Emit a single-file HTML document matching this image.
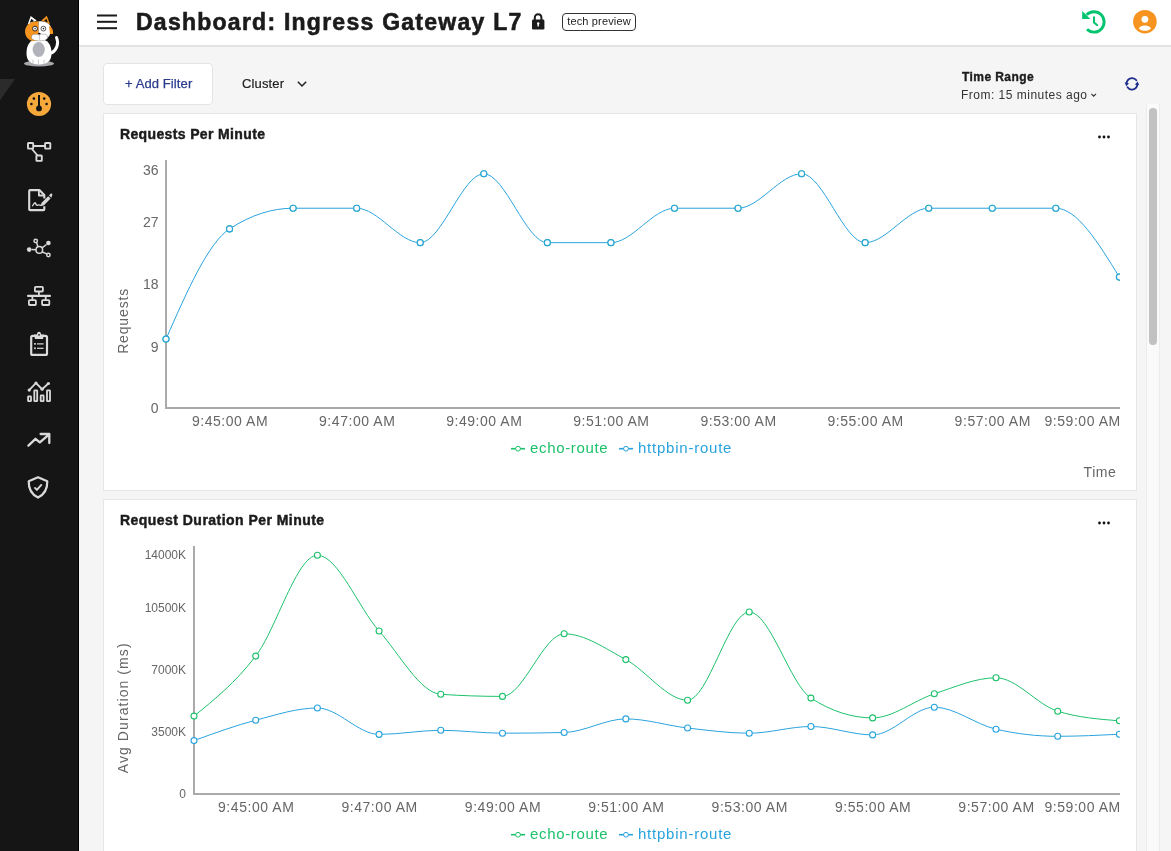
<!DOCTYPE html>
<html><head><meta charset="utf-8"><style>
*{box-sizing:border-box}
html,body{margin:0;padding:0;width:1171px;height:851px;overflow:hidden;background:#f5f5f5;font-family:"Liberation Sans", sans-serif}
.abs{position:absolute}
svg,.abs{will-change:transform}
#side{left:0;top:0;width:79px;height:851px;background:#151515;border-right:1px solid #000}
#hdr{left:79px;top:0;width:1092px;height:47px;background:#fff;border-bottom:2px solid #e3e3e3}
.title{left:136px;top:6.8px;font-size:23px;font-weight:bold;color:#1b1b1b;letter-spacing:1.25px;-webkit-text-stroke:0.6px #1b1b1b;white-space:nowrap;line-height:30px}
.badge{left:562px;top:13px;width:74px;height:18px;border:1px solid #333;border-radius:4px;font-size:11px;color:#222;line-height:15px;text-align:center;letter-spacing:0.15px}
.btn{left:103px;top:63px;width:110px;height:42px;background:#fff;border:1px solid #e4e4e4;border-radius:4px}
.panel{background:#fff;border:1px solid #e6e6e6}
.ptitle{font-size:14px;font-weight:bold;color:#1b1b1b;white-space:nowrap;letter-spacing:0.36px;line-height:16px;-webkit-text-stroke:0.45px #1b1b1b}
text{font-family:"Liberation Sans", sans-serif}
.xl{font-size:14px;fill:#666;letter-spacing:0.55px}
.yl1{font-size:14px;fill:#666}
.yl2{font-size:12px;fill:#666}
.at{font-size:14px;fill:#666}
.lg{font-size:15px}
</style></head><body>
<div id="side" class="abs"></div>
<div id="hdr" class="abs"></div>
<div class="abs title">Dashboard: Ingress Gateway L7</div>
<div class="abs badge">tech preview</div>
<div class="abs btn"></div>
<div class="abs" style="left:125px;top:76px;font-size:13px;color:#2a3a8c;line-height:15px;white-space:nowrap;letter-spacing:0.1px;-webkit-text-stroke:0.25px #2a3a8c">+ Add Filter</div>
<div class="abs" style="left:241.5px;top:76px;font-size:13px;color:#222;line-height:15px;letter-spacing:0.15px;-webkit-text-stroke:0.2px #222">Cluster</div>
<div class="abs" style="left:961.5px;top:70px;font-size:12px;font-weight:bold;color:#1b1b1b;line-height:14px;letter-spacing:0.42px;white-space:nowrap;-webkit-text-stroke:0.35px #1b1b1b">Time Range</div>
<div class="abs" style="left:960.8px;top:88px;font-size:12px;color:#333;line-height:14px;letter-spacing:0.49px;white-space:nowrap">From: 15 minutes ago</div>
<div class="abs panel" style="left:103px;top:113px;width:1034px;height:378px"></div>
<div class="abs panel" style="left:103px;top:499px;width:1034px;height:400px"></div>
<div class="abs ptitle" style="left:119.8px;top:126px">Requests Per Minute</div>
<div class="abs ptitle" style="left:119.8px;top:512px;letter-spacing:0.46px">Request Duration Per Minute</div>
<div class="abs" style="left:1146px;top:104px;width:14px;height:747px;background:#fafafa;border-left:1px solid #ececec;border-right:1px solid #ececec"></div>
<div class="abs" style="left:1149px;top:108px;width:8px;height:237px;background:#c1c1c1;border-radius:4px"></div>
<svg width="1171" height="851" style="position:absolute;left:0;top:0"><defs><clipPath id="c1"><rect x="160" y="100" width="960" height="320"/></clipPath><clipPath id="c2"><rect x="188" y="530" width="932" height="270"/></clipPath></defs><rect x="165" y="160" width="2" height="249" fill="#aaa"/><rect x="165" y="407" width="955" height="2" fill="#aaa"/><g clip-path="url(#c1)"><circle cx="166.00" cy="339.11" r="3.0" fill="#fff" stroke="#1cc16b" stroke-width="1.1"/><circle cx="229.56" cy="228.89" r="3.0" fill="#fff" stroke="#1cc16b" stroke-width="1.1"/><circle cx="293.12" cy="208.22" r="3.0" fill="#fff" stroke="#1cc16b" stroke-width="1.1"/><circle cx="356.68" cy="208.22" r="3.0" fill="#fff" stroke="#1cc16b" stroke-width="1.1"/><circle cx="420.24" cy="242.67" r="3.0" fill="#fff" stroke="#1cc16b" stroke-width="1.1"/><circle cx="483.80" cy="173.78" r="3.0" fill="#fff" stroke="#1cc16b" stroke-width="1.1"/><circle cx="547.36" cy="242.67" r="3.0" fill="#fff" stroke="#1cc16b" stroke-width="1.1"/><circle cx="610.92" cy="242.67" r="3.0" fill="#fff" stroke="#1cc16b" stroke-width="1.1"/><circle cx="674.48" cy="208.22" r="3.0" fill="#fff" stroke="#1cc16b" stroke-width="1.1"/><circle cx="738.04" cy="208.22" r="3.0" fill="#fff" stroke="#1cc16b" stroke-width="1.1"/><circle cx="801.60" cy="173.78" r="3.0" fill="#fff" stroke="#1cc16b" stroke-width="1.1"/><circle cx="865.16" cy="242.67" r="3.0" fill="#fff" stroke="#1cc16b" stroke-width="1.1"/><circle cx="928.72" cy="208.22" r="3.0" fill="#fff" stroke="#1cc16b" stroke-width="1.1"/><circle cx="992.28" cy="208.22" r="3.0" fill="#fff" stroke="#1cc16b" stroke-width="1.1"/><circle cx="1055.84" cy="208.22" r="3.0" fill="#fff" stroke="#1cc16b" stroke-width="1.1"/><circle cx="1119.40" cy="277.11" r="3.0" fill="#fff" stroke="#1cc16b" stroke-width="1.1"/><path d="M166.00,339.11C187.19,290.89 208.37,242.67 229.56,228.89C250.75,215.11 271.93,208.22 293.12,208.22C314.31,208.22 335.49,208.22 356.68,208.22C377.87,208.22 399.05,242.67 420.24,242.67C441.43,242.67 462.61,173.78 483.80,173.78C504.99,173.78 526.17,242.67 547.36,242.67C568.55,242.67 589.73,242.67 610.92,242.67C632.11,242.67 653.29,208.22 674.48,208.22C695.67,208.22 716.85,208.22 738.04,208.22C759.23,208.22 780.41,173.78 801.60,173.78C822.79,173.78 843.97,242.67 865.16,242.67C886.35,242.67 907.53,208.22 928.72,208.22C949.91,208.22 971.09,208.22 992.28,208.22C1013.47,208.22 1034.65,208.22 1055.84,208.22C1077.03,208.22 1098.21,242.67 1119.40,277.11" fill="none" stroke="#29a3dd" stroke-width="1"/><circle cx="166.00" cy="339.11" r="3.0" fill="#fff" stroke="#29a3dd" stroke-width="1.1"/><circle cx="229.56" cy="228.89" r="3.0" fill="#fff" stroke="#29a3dd" stroke-width="1.1"/><circle cx="293.12" cy="208.22" r="3.0" fill="#fff" stroke="#29a3dd" stroke-width="1.1"/><circle cx="356.68" cy="208.22" r="3.0" fill="#fff" stroke="#29a3dd" stroke-width="1.1"/><circle cx="420.24" cy="242.67" r="3.0" fill="#fff" stroke="#29a3dd" stroke-width="1.1"/><circle cx="483.80" cy="173.78" r="3.0" fill="#fff" stroke="#29a3dd" stroke-width="1.1"/><circle cx="547.36" cy="242.67" r="3.0" fill="#fff" stroke="#29a3dd" stroke-width="1.1"/><circle cx="610.92" cy="242.67" r="3.0" fill="#fff" stroke="#29a3dd" stroke-width="1.1"/><circle cx="674.48" cy="208.22" r="3.0" fill="#fff" stroke="#29a3dd" stroke-width="1.1"/><circle cx="738.04" cy="208.22" r="3.0" fill="#fff" stroke="#29a3dd" stroke-width="1.1"/><circle cx="801.60" cy="173.78" r="3.0" fill="#fff" stroke="#29a3dd" stroke-width="1.1"/><circle cx="865.16" cy="242.67" r="3.0" fill="#fff" stroke="#29a3dd" stroke-width="1.1"/><circle cx="928.72" cy="208.22" r="3.0" fill="#fff" stroke="#29a3dd" stroke-width="1.1"/><circle cx="992.28" cy="208.22" r="3.0" fill="#fff" stroke="#29a3dd" stroke-width="1.1"/><circle cx="1055.84" cy="208.22" r="3.0" fill="#fff" stroke="#29a3dd" stroke-width="1.1"/><circle cx="1119.40" cy="277.11" r="3.0" fill="#fff" stroke="#29a3dd" stroke-width="1.1"/></g><text x="158.5" y="175.0" text-anchor="end" class="yl1">36</text><text x="158.5" y="227.0" text-anchor="end" class="yl1">27</text><text x="158.5" y="289.0" text-anchor="end" class="yl1">18</text><text x="158.5" y="351.6" text-anchor="end" class="yl1">9</text><text x="158.5" y="412.6" text-anchor="end" class="yl1">0</text><text x="230.06" y="426" text-anchor="middle" class="xl">9:45:00 AM</text><text x="357.18" y="426" text-anchor="middle" class="xl">9:47:00 AM</text><text x="484.30" y="426" text-anchor="middle" class="xl">9:49:00 AM</text><text x="611.42" y="426" text-anchor="middle" class="xl">9:51:00 AM</text><text x="738.54" y="426" text-anchor="middle" class="xl">9:53:00 AM</text><text x="865.66" y="426" text-anchor="middle" class="xl">9:55:00 AM</text><text x="992.78" y="426" text-anchor="middle" class="xl">9:57:00 AM</text><text x="1120.8" y="426" text-anchor="end" class="xl">9:59:00 AM</text><text transform="translate(128,320.9) rotate(-90)" text-anchor="middle" class="at" style="letter-spacing:0.85px">Requests</text><text x="1116.5" y="477" text-anchor="end" class="at" style="letter-spacing:0.6px">Time</text><rect x="511" y="447.90" width="14" height="1.6" fill="#1cc16b"/><circle cx="518.0" cy="448.70" r="2.4" fill="#fff" stroke="#1cc16b" stroke-width="1"/><text x="530" y="452.8" class="lg" fill="#1cc16b" style="letter-spacing:0.66px">echo-route</text><rect x="619" y="447.90" width="14" height="1.6" fill="#29a3dd"/><circle cx="626.0" cy="448.70" r="2.4" fill="#fff" stroke="#29a3dd" stroke-width="1"/><text x="638" y="452.8" class="lg" fill="#29a3dd" style="letter-spacing:0.77px">httpbin-route</text><rect x="193" y="546" width="2" height="249" fill="#aaa"/><rect x="193" y="793" width="927" height="2" fill="#aaa"/><g clip-path="url(#c2)"><path d="M194.00,716.10C214.56,699.50 235.13,682.90 255.69,656.10C276.26,629.30 296.82,555.30 317.39,555.30C337.95,555.30 358.52,607.83 379.08,631.00C399.64,654.17 420.21,692.90 440.77,694.30C461.34,695.70 481.90,696.40 502.47,696.40C523.03,696.40 543.60,633.80 564.16,633.80C584.72,633.80 605.29,648.53 625.85,659.60C646.42,670.67 666.98,700.20 687.55,700.20C708.11,700.20 728.68,612.00 749.24,612.00C769.80,612.00 790.37,684.90 810.93,698.10C831.50,711.30 852.06,717.90 872.63,717.90C893.19,717.90 913.76,700.48 934.32,693.80C954.88,687.12 975.45,677.80 996.01,677.80C1016.58,677.80 1037.14,704.80 1057.71,711.20C1078.27,717.60 1098.84,719.20 1119.40,720.80" fill="none" stroke="#1cc16b" stroke-width="1"/><circle cx="194.00" cy="716.10" r="3.0" fill="#fff" stroke="#1cc16b" stroke-width="1.1"/><circle cx="255.69" cy="656.10" r="3.0" fill="#fff" stroke="#1cc16b" stroke-width="1.1"/><circle cx="317.39" cy="555.30" r="3.0" fill="#fff" stroke="#1cc16b" stroke-width="1.1"/><circle cx="379.08" cy="631.00" r="3.0" fill="#fff" stroke="#1cc16b" stroke-width="1.1"/><circle cx="440.77" cy="694.30" r="3.0" fill="#fff" stroke="#1cc16b" stroke-width="1.1"/><circle cx="502.47" cy="696.40" r="3.0" fill="#fff" stroke="#1cc16b" stroke-width="1.1"/><circle cx="564.16" cy="633.80" r="3.0" fill="#fff" stroke="#1cc16b" stroke-width="1.1"/><circle cx="625.85" cy="659.60" r="3.0" fill="#fff" stroke="#1cc16b" stroke-width="1.1"/><circle cx="687.55" cy="700.20" r="3.0" fill="#fff" stroke="#1cc16b" stroke-width="1.1"/><circle cx="749.24" cy="612.00" r="3.0" fill="#fff" stroke="#1cc16b" stroke-width="1.1"/><circle cx="810.93" cy="698.10" r="3.0" fill="#fff" stroke="#1cc16b" stroke-width="1.1"/><circle cx="872.63" cy="717.90" r="3.0" fill="#fff" stroke="#1cc16b" stroke-width="1.1"/><circle cx="934.32" cy="693.80" r="3.0" fill="#fff" stroke="#1cc16b" stroke-width="1.1"/><circle cx="996.01" cy="677.80" r="3.0" fill="#fff" stroke="#1cc16b" stroke-width="1.1"/><circle cx="1057.71" cy="711.20" r="3.0" fill="#fff" stroke="#1cc16b" stroke-width="1.1"/><circle cx="1119.40" cy="720.80" r="3.0" fill="#fff" stroke="#1cc16b" stroke-width="1.1"/><path d="M194.00,740.60C214.56,733.12 235.13,725.63 255.69,720.20C276.26,714.77 296.82,708.00 317.39,708.00C337.95,708.00 358.52,734.40 379.08,734.40C399.64,734.40 420.21,730.30 440.77,730.30C461.34,730.30 481.90,733.20 502.47,733.20C523.03,733.20 543.60,732.97 564.16,732.50C584.72,732.03 605.29,718.90 625.85,718.90C646.42,718.90 666.98,725.62 687.55,728.00C708.11,730.38 728.68,733.20 749.24,733.20C769.80,733.20 790.37,726.50 810.93,726.50C831.50,726.50 852.06,734.90 872.63,734.90C893.19,734.90 913.76,707.20 934.32,707.20C954.88,707.20 975.45,724.47 996.01,729.20C1016.58,733.93 1037.14,736.30 1057.71,736.30C1078.27,736.30 1098.84,735.25 1119.40,734.20" fill="none" stroke="#29a3dd" stroke-width="1"/><circle cx="194.00" cy="740.60" r="3.0" fill="#fff" stroke="#29a3dd" stroke-width="1.1"/><circle cx="255.69" cy="720.20" r="3.0" fill="#fff" stroke="#29a3dd" stroke-width="1.1"/><circle cx="317.39" cy="708.00" r="3.0" fill="#fff" stroke="#29a3dd" stroke-width="1.1"/><circle cx="379.08" cy="734.40" r="3.0" fill="#fff" stroke="#29a3dd" stroke-width="1.1"/><circle cx="440.77" cy="730.30" r="3.0" fill="#fff" stroke="#29a3dd" stroke-width="1.1"/><circle cx="502.47" cy="733.20" r="3.0" fill="#fff" stroke="#29a3dd" stroke-width="1.1"/><circle cx="564.16" cy="732.50" r="3.0" fill="#fff" stroke="#29a3dd" stroke-width="1.1"/><circle cx="625.85" cy="718.90" r="3.0" fill="#fff" stroke="#29a3dd" stroke-width="1.1"/><circle cx="687.55" cy="728.00" r="3.0" fill="#fff" stroke="#29a3dd" stroke-width="1.1"/><circle cx="749.24" cy="733.20" r="3.0" fill="#fff" stroke="#29a3dd" stroke-width="1.1"/><circle cx="810.93" cy="726.50" r="3.0" fill="#fff" stroke="#29a3dd" stroke-width="1.1"/><circle cx="872.63" cy="734.90" r="3.0" fill="#fff" stroke="#29a3dd" stroke-width="1.1"/><circle cx="934.32" cy="707.20" r="3.0" fill="#fff" stroke="#29a3dd" stroke-width="1.1"/><circle cx="996.01" cy="729.20" r="3.0" fill="#fff" stroke="#29a3dd" stroke-width="1.1"/><circle cx="1057.71" cy="736.30" r="3.0" fill="#fff" stroke="#29a3dd" stroke-width="1.1"/><circle cx="1119.40" cy="734.20" r="3.0" fill="#fff" stroke="#29a3dd" stroke-width="1.1"/></g><text x="186" y="559.3" text-anchor="end" class="yl2">14000K</text><text x="186" y="612.0" text-anchor="end" class="yl2">10500K</text><text x="186" y="673.9" text-anchor="end" class="yl2">7000K</text><text x="186" y="736.3" text-anchor="end" class="yl2">3500K</text><text x="186" y="797.8" text-anchor="end" class="yl2">0</text><text x="256.19" y="812" text-anchor="middle" class="xl">9:45:00 AM</text><text x="379.58" y="812" text-anchor="middle" class="xl">9:47:00 AM</text><text x="502.97" y="812" text-anchor="middle" class="xl">9:49:00 AM</text><text x="626.35" y="812" text-anchor="middle" class="xl">9:51:00 AM</text><text x="749.74" y="812" text-anchor="middle" class="xl">9:53:00 AM</text><text x="873.13" y="812" text-anchor="middle" class="xl">9:55:00 AM</text><text x="996.51" y="812" text-anchor="middle" class="xl">9:57:00 AM</text><text x="1120.8" y="812" text-anchor="end" class="xl">9:59:00 AM</text><text transform="translate(127.6,707.8) rotate(-90)" text-anchor="middle" class="at" style="letter-spacing:1.08px">Avg Duration (ms)</text><rect x="511" y="833.90" width="14" height="1.6" fill="#1cc16b"/><circle cx="518.0" cy="834.70" r="2.4" fill="#fff" stroke="#1cc16b" stroke-width="1"/><text x="530" y="838.8" class="lg" fill="#1cc16b" style="letter-spacing:0.66px">echo-route</text><rect x="619" y="833.90" width="14" height="1.6" fill="#29a3dd"/><circle cx="626.0" cy="834.70" r="2.4" fill="#fff" stroke="#29a3dd" stroke-width="1"/><text x="638" y="838.8" class="lg" fill="#29a3dd" style="letter-spacing:0.77px">httpbin-route</text></svg>
<svg width="1171" height="851" style="position:absolute;left:0;top:0"><polygon points="0,79 15,79 0,100.5" fill="#2b2b2b"/><ellipse cx="39" cy="63.5" rx="15" ry="3" fill="#a9a9ad"/><path d="M51.5,53 C57,50 59,43 56.5,37.5" fill="none" stroke="#fff" stroke-width="3" stroke-linecap="round"/><path d="M26.5,53 C26.5,45 30,39 39,39 C48,39 51.5,45 51.5,53 C51.5,60.5 48,64.5 39,64.5 C30,64.5 26.5,60.5 26.5,53 Z" fill="#fff"/><ellipse cx="38.7" cy="49.5" rx="6.1" ry="7.5" fill="#b2b2ba"/><path d="M33,59.5 L33,64 M38.5,59.5 L38.5,64 M44,59.5 L44,64" stroke="#999" stroke-width="0.5"/><path d="M27.6,24.8 L30.7,16.1 L36.7,20.6 Z" fill="#fff"/><path d="M29.8,22.8 L31.4,18.8 L34.2,21.2 Z" fill="#151515"/><path d="M41.4,20.6 L46.8,15.8 L50,24.5 Z" fill="#f7941d"/><path d="M44,21 L46.4,18.8 L47.8,22.6 Z" fill="#151515"/><path d="M38.6,21.2 C31,21 25,25 25,31.5 C25,36.5 28.5,40.5 33,41 L38.6,40.5 Z" fill="#f7941d"/><path d="M38.6,21.2 C45,21 50.5,23.5 51,28 C51.5,33 49,38 44,40.5 L38.6,40.5 Z" fill="#fff"/><path d="M49,26 C52,27 53.5,30 53,34 L50,34 Z" fill="#f7941d"/><circle cx="35" cy="28.6" r="2.4" fill="#fff" stroke="#1a1a1a" stroke-width="0.9"/><circle cx="35.1" cy="28.6" r="0.8" fill="#333"/><circle cx="43.4" cy="28.6" r="2.4" fill="#fff" stroke="#333" stroke-width="0.8"/><circle cx="43.5" cy="28.6" r="0.8" fill="#222"/><path d="M31.5,37 C31.5,34.5 34,34 36,34.3 C37.5,34 38.5,34.5 39.3,35 C40.5,34.2 42,34 43.5,34.2 C46,34 47.5,35 47.5,37 C47.5,39.5 45,40.8 39.5,40.8 C34,40.8 31.5,39.5 31.5,37 Z" fill="#fff" stroke="#777" stroke-width="0.45"/><path d="M39.4,35 L39.4,40" stroke="#999" stroke-width="0.5"/><ellipse cx="39.3" cy="33.6" rx="1.3" ry="0.9" fill="#151515"/><circle cx="39" cy="104" r="12.1" fill="#f6a83b"/><rect x="38" y="95" width="2" height="12" fill="#151515"/><circle cx="39" cy="108.4" r="2.9" fill="#151515"/><circle cx="33.9" cy="98.6" r="1.3" fill="#151515"/><circle cx="44.2" cy="98.6" r="1.3" fill="#151515"/><circle cx="31.4" cy="104.0" r="1.3" fill="#151515"/><circle cx="46.6" cy="104.0" r="1.3" fill="#151515"/><g fill="none" stroke="#dadada" stroke-width="1.9"><rect x="28" y="143" width="5.2" height="5.6" rx="0.6"/><rect x="45.1" y="143" width="5.2" height="5.6" rx="0.6"/><rect x="36.4" y="155.5" width="5.4" height="5.4" rx="0.6"/><path d="M33.2,146 L45.1,146 M32,149 L37.5,155.5"/></g><g fill="none" stroke="#dadada" stroke-width="2.1" stroke-linejoin="round"><path d="M44.3,198.5 L44.3,195 L39.4,190.1 L30.1,190.1 Q29.2,190.1 29.2,191 L29.2,209.2 Q29.2,210.1 30.1,210.1 L43.4,210.1 Q44.3,210.1 44.3,209.2 L44.3,206.2"/><path d="M38.9,190.6 L38.9,195.5 L43.8,195.5" stroke-width="1.8"/><path d="M32.3,206.3 C33.3,204.5 34.3,203 35.1,202.6 C35.8,204 36.2,205 37,205.3 C38,204.8 39.2,204.6 41.2,205.4" stroke-width="1.3"/></g><path d="M40.6,206.2 L41.6,202.8 L48.2,196.2 L50.6,198.6 L44,205.2 Z" fill="#dadada"/><path d="M49,195.4 L50.6,193.8 Q51.5,193.2 52.1,193.8 Q52.7,194.4 52.1,195.3 L51.4,197.8 Z" fill="#dadada"/><g fill="none" stroke="#dadada" stroke-width="1.5"><circle cx="39.3" cy="249.9" r="3.3"/><circle cx="35.7" cy="240.9" r="1.7"/><circle cx="48.4" cy="255" r="1.7"/><path d="M36.5,242.5 L38,246.8 M42.2,252 L46.9,253.9 M31.5,249.6 L36,249.8 M42,247.8 L46.5,244.5"/></g><circle cx="29.2" cy="249.6" r="2.3" fill="#dadada"/><circle cx="48.4" cy="243" r="2.3" fill="#dadada"/><g fill="none" stroke="#dadada" stroke-width="1.8"><rect x="34.9" y="286.9" width="8" height="4.6" rx="0.8"/><rect x="28.9" y="300.1" width="7" height="4.9" rx="0.8"/><rect x="42.1" y="300.1" width="7.2" height="4.9" rx="0.8"/><path d="M38.9,291.5 L38.9,295 M32.4,296 L32.4,300 M45.7,296 L45.7,300"/></g><rect x="27" y="294.8" width="24" height="2.1" rx="1" fill="#dadada"/><g fill="none" stroke="#dadada" stroke-width="2.2"><rect x="31.2" y="335.9" width="15.8" height="19" rx="1.5"/></g><path d="M34,334.5 L37,334.5 Q37,331.7 39,331.7 Q41,331.7 41,334.5 L44,334.5 L43,339 L35,339 Z" fill="#dadada"/><circle cx="39" cy="334.8" r="0.9" fill="#151515"/><rect x="34.1" y="343" width="1.7" height="1.7" fill="#dadada"/><rect x="37" y="343.3" width="6.6" height="1.2" fill="#dadada"/><rect x="34.1" y="347.4" width="1.7" height="1.7" fill="#dadada"/><rect x="37" y="347.7" width="6.6" height="1.2" fill="#dadada"/><g fill="none" stroke="#dadada" stroke-width="1.8"><path d="M29.2,390.1 L36,383 L42.1,389.2 L48.4,383.5"/><rect x="28.1" y="396.4" width="2.9" height="4.8" rx="0.5"/><rect x="34.3" y="390.4" width="2.9" height="10.8" rx="0.5"/><rect x="40.7" y="395.4" width="2.9" height="5.8" rx="0.5"/><rect x="47" y="390.4" width="3" height="10.8" rx="0.5"/></g><circle cx="29.2" cy="390.1" r="1.6" fill="#dadada"/><circle cx="36.0" cy="383.0" r="1.6" fill="#dadada"/><circle cx="42.1" cy="389.2" r="1.6" fill="#dadada"/><circle cx="48.4" cy="383.5" r="1.6" fill="#dadada"/><path d="M28.4,445.6 L35.5,438.8 L39.8,442.4 L48.6,434.8 M40.6,434 L49.3,434 L49.3,443" fill="none" stroke="#dadada" stroke-width="2.3" stroke-linecap="round" stroke-linejoin="round"/><path d="M38,477.3 L47.3,481.2 C47.5,488 45,494 38,497.6 C31,494 28.5,488 28.7,481.2 Z" fill="none" stroke="#dadada" stroke-width="2.2" stroke-linejoin="round"/><path d="M35,487.9 L36.9,489.9 L41.3,484.9" fill="none" stroke="#dadada" stroke-width="1.9" stroke-linecap="round" stroke-linejoin="round"/><rect x="97" y="14.5" width="20" height="2" fill="#1b1b1b"/><rect x="97" y="20.8" width="20" height="2" fill="#1b1b1b"/><rect x="97" y="27.2" width="20" height="2" fill="#1b1b1b"/><path d="M534.8,20 L534.8,17.8 C534.8,15.5 536.2,14.2 538.1,14.2 C540,14.2 541.4,15.5 541.4,17.8 L541.4,20" fill="none" stroke="#1b1b1b" stroke-width="2"/><rect x="532" y="19.6" width="12.4" height="10" rx="1.3" fill="#1b1b1b"/><path d="M538.2,23 L538.2,26.5" stroke="#fff" stroke-width="1.4"/><circle cx="538.2" cy="23.4" r="1.2" fill="#fff"/><path d="M1086.6,14.8 A10.2,10.2 0 1 1 1087,29.4" fill="none" stroke="#02c470" stroke-width="2.9"/><polygon points="1082.2,11 1082.2,18.9 1090.4,18.9" fill="#02c470"/><path d="M1094,17.2 L1094,22.6 L1097.3,25.2" fill="none" stroke="#02c470" stroke-width="2" stroke-linecap="round"/><circle cx="1144.9" cy="21.7" r="11.8" fill="#f6941f"/><circle cx="1144.9" cy="19.3" r="3.4" fill="#fff"/><path d="M1138.8,28.5 C1140,26.5 1142,25.6 1144.9,25.6 C1147.8,25.6 1149.8,26.5 1151,28.5 C1149.5,30.2 1147.5,30.8 1144.9,30.8 C1142.3,30.8 1140.3,30.2 1138.8,28.5 Z" fill="#fff"/><path d="M297.8,81.7 L302,86 L306.2,81.7" fill="none" stroke="#222" stroke-width="1.5"/><path d="M1091.4,93.8 L1093.7,96.2 L1096,93.8" fill="none" stroke="#333" stroke-width="1.1"/><path d="M1136.4,80.3 A5.4,5.4 0 0 0 1126.7,83" fill="none" stroke="#1e2d8c" stroke-width="1.8" stroke-linecap="round"/><path d="M1127.5,87.2 A5.4,5.4 0 0 0 1137.3,84.6" fill="none" stroke="#1e2d8c" stroke-width="1.8" stroke-linecap="round"/><polygon points="1124.6,82.2 1129,83.4 1126.2,86.2" fill="#1e2d8c"/><polygon points="1139.2,85.3 1134.8,84.6 1137.7,81.6" fill="#1e2d8c"/><circle cx="1099.5" cy="137.0" r="1.4" fill="#111"/><circle cx="1104.0" cy="137.0" r="1.4" fill="#111"/><circle cx="1108.5" cy="137.0" r="1.4" fill="#111"/><circle cx="1099.5" cy="523.0" r="1.4" fill="#111"/><circle cx="1104.0" cy="523.0" r="1.4" fill="#111"/><circle cx="1108.5" cy="523.0" r="1.4" fill="#111"/></svg>
</body></html>
